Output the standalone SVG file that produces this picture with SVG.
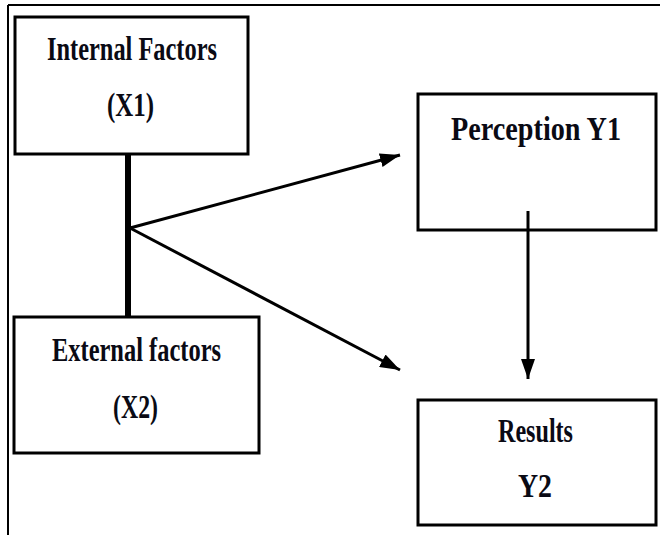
<svg xmlns="http://www.w3.org/2000/svg" width="660" height="535" viewBox="0 0 660 535">
<style>
.box{fill:#fff;stroke:#000;stroke-width:3}
.frame{stroke:#000;stroke-width:2;fill:none}
.t{font-family:"Liberation Serif","Times New Roman",serif;font-weight:bold;font-size:33px;fill:#0a0a14;text-anchor:start}
.ln{stroke:#000;stroke-width:3;fill:none}
</style>
<defs>
<marker id="ah" viewBox="0 0 20 14" refX="20" refY="7" markerWidth="20" markerHeight="14" markerUnits="userSpaceOnUse" orient="auto">
<path d="M0,0 L20,7 L0,14 Z" fill="#000"/>
</marker>
</defs>
<rect width="660" height="535" fill="#fff"/>
<g id="frame">
<line class="frame" x1="8" y1="5" x2="660" y2="5"/>
<line class="frame" x1="8" y1="5" x2="8" y2="535"/>
</g>
<g id="internal">
<rect class="box" x="15" y="17" width="233" height="137"/>
<text class="t" x="47" y="60" textLength="170" lengthAdjust="spacingAndGlyphs">Internal Factors</text>
<text class="t" x="107" y="116" textLength="47" lengthAdjust="spacingAndGlyphs">(X1)</text>
</g>
<g id="external">
<rect class="box" x="14" y="317" width="245" height="136"/>
<text class="t" x="52" y="361" textLength="169" lengthAdjust="spacingAndGlyphs">External factors</text>
<text class="t" x="113" y="418" textLength="45" lengthAdjust="spacingAndGlyphs">(X2)</text>
</g>
<g id="perception">
<rect class="box" x="418" y="94" width="238" height="136"/>
<text class="t" x="451" y="140" textLength="170" lengthAdjust="spacingAndGlyphs">Perception Y1</text>
</g>
<g id="results">
<rect class="box" x="418" y="400" width="238" height="125"/>
<text class="t" x="498" y="442" textLength="75" lengthAdjust="spacingAndGlyphs">Results</text>
<text class="t" x="518" y="497" textLength="34" lengthAdjust="spacingAndGlyphs">Y2</text>
</g>
<g id="connectors">
<line x1="128" y1="155" x2="128" y2="316" stroke="#000" stroke-width="6"/>
<line class="ln" x1="130" y1="228" x2="400" y2="155" marker-end="url(#ah)"/>
<line class="ln" x1="130" y1="228" x2="400" y2="370" marker-end="url(#ah)"/>
<line class="ln" x1="528" y1="211" x2="528" y2="379" stroke-width="2.5" marker-end="url(#ah)"/>
</g>
</svg>
